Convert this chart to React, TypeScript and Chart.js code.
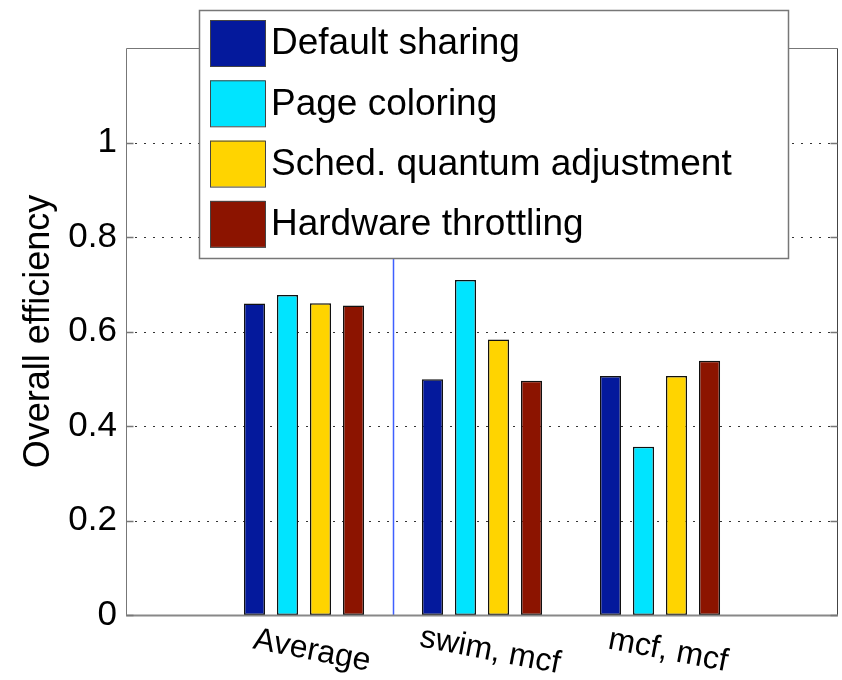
import React, { useEffect, useRef } from "react";
import { Chart, registerables } from "chart.js";

Chart.register(...registerables);

const categories = ["", "Average", "swim, mcf", "mcf, mcf", ""];
const seriesNames = [
  "Default sharing",
  "Page coloring",
  "Sched. quantum adjustment",
  "Hardware throttling",
];
const defaultSharing = [null, 0.659, 0.499, 0.506, null];
const pageColoring = [null, 0.677, 0.709, 0.356, null];
const schedQuantum = [null, 0.66, 0.583, 0.506, null];
const hwThrottling = [null, 0.655, 0.496, 0.538, null];
const seriesColors = ["#04199c", "#00e4ff", "#ffd400", "#8c1400"];
const yTicks = [0, 0.2, 0.4, 0.6, 0.8, 1];
const yTitle = "Overall efficiency";

const FONT = "'Liberation Sans', Arial, Helvetica, sans-serif";

const customDraw = {
  id: "customDraw",
  beforeDatasetsDraw(chart: any) {
    const { ctx, chartArea } = chart;
    const y = chart.scales.y;
    const x = chart.scales.x;
    ctx.save();
    // dotted grid lines
    ctx.strokeStyle = "#333";
    ctx.lineWidth = 1.2;
    ctx.setLineDash([2, 7]);
    yTicks.forEach((v) => {
      if (v === 0) return;
      const py = Math.round(y.getPixelForValue(v)) + 0.5;
      ctx.beginPath();
      ctx.moveTo(chartArea.left, py);
      ctx.lineTo(chartArea.right, py);
      ctx.stroke();
    });
    ctx.setLineDash([]);
    // blue divider between first group and the rest
    const px = Math.round((x.getPixelForValue(1) + x.getPixelForValue(2)) / 2) + 0.5;
    ctx.strokeStyle = "#3f5fff";
    ctx.lineWidth = 1.5;
    ctx.beginPath();
    ctx.moveTo(px, chartArea.top);
    ctx.lineTo(px, chartArea.bottom);
    ctx.stroke();
    ctx.restore();
  },
  afterDatasetsDraw(chart: any) {
    const { ctx, chartArea } = chart;
    const y = chart.scales.y;
    const x = chart.scales.x;
    ctx.save();
    // axis box
    ctx.strokeStyle = "#777";
    ctx.lineWidth = 1;
    const l = Math.round(chartArea.left) + 0.5;
    const r = Math.round(chartArea.right) - 0.5;
    const t = Math.round(chartArea.top) + 0.5;
    const b = Math.round(chartArea.bottom) + 0.5;
    ctx.beginPath();
    ctx.moveTo(l, b);
    ctx.lineTo(l, t);
    ctx.lineTo(r, t);
    ctx.stroke();
    ctx.strokeStyle = "#444";
    ctx.beginPath();
    ctx.moveTo(r, t);
    ctx.lineTo(r, b);
    ctx.stroke();
    ctx.strokeStyle = "#888";
    ctx.lineWidth = 2;
    ctx.beginPath();
    ctx.moveTo(l - 0.5, b);
    ctx.lineTo(r + 0.5, b);
    ctx.stroke();
    // tick marks
    ctx.strokeStyle = "#777";
    ctx.lineWidth = 1.5;
    yTicks.forEach((v) => {
      const py = Math.round(y.getPixelForValue(v)) + 0.5;
      ctx.beginPath();
      ctx.moveTo(l, py);
      ctx.lineTo(l + 7, py);
      ctx.moveTo(r, py);
      ctx.lineTo(r - 7, py);
      ctx.stroke();
    });
    // x category labels, rotated
    ctx.fillStyle = "#000";
    ctx.font = `32px ${FONT}`;
    ctx.textAlign = "center";
    ctx.textBaseline = "middle";
    categories.forEach((c, i) => {
      if (!c) return;
      const cx = x.getPixelForValue(i) + 8;
      const cy = chartArea.bottom + 36;
      ctx.save();
      ctx.translate(cx, cy);
      ctx.rotate((11 * Math.PI) / 180);
      ctx.fillText(c, 0, 0);
      ctx.restore();
    });
    // y title
    ctx.save();
    ctx.font = `36px ${FONT}`;
    ctx.translate(39, (chartArea.top + chartArea.bottom) / 2);
    ctx.rotate(-Math.PI / 2);
    ctx.textAlign = "center";
    ctx.textBaseline = "middle";
    ctx.fillText(yTitle, 0, 0);
    ctx.restore();
    // legend
    const lx = 199.5, ly = 10.5, lw = 589, lh = 248;
    ctx.fillStyle = "#fff";
    ctx.fillRect(lx, ly, lw, lh);
    ctx.strokeStyle = "#777";
    ctx.lineWidth = 1.5;
    ctx.strokeRect(lx, ly, lw, lh);
    ctx.font = `37px ${FONT}`;
    ctx.textAlign = "left";
    ctx.textBaseline = "middle";
    chart.data.datasets.forEach((ds: any, i: number) => {
      const sy = 20 + i * 60.3;
      ctx.fillStyle = ds.backgroundColor;
      ctx.fillRect(210, sy, 55, 46);
      ctx.strokeStyle = "#444";
      ctx.lineWidth = 1;
      ctx.strokeRect(210.5, sy + 0.5, 55, 46);
      ctx.fillStyle = "#000";
      ctx.fillText(ds.label, 271, sy + 24);
    });
    ctx.restore();
  },
};

export default function App() {
  const canvasRef = useRef<HTMLCanvasElement | null>(null);

  useEffect(() => {
    const canvas = canvasRef.current;
    if (!canvas) return;
    const seriesData = [defaultSharing, pageColoring, schedQuantum, hwThrottling];
    const chart = new Chart(canvas, {
      type: "bar",
      data: {
        labels: categories,
        datasets: seriesData.map((d, i) => ({
          label: seriesNames[i],
          data: d,
          backgroundColor: seriesColors[i],
          borderColor: "#111",
          borderWidth: 1.5,
          borderSkipped: false,
          categoryPercentage: 0.742,
          barPercentage: 0.64,
        })),
      },
      options: {
        animation: false,
        responsive: false,
        maintainAspectRatio: false,
        devicePixelRatio: 1,
        layout: { padding: { top: 48, right: 4, bottom: 65, left: 0 } },
        plugins: {
          legend: { display: false },
          tooltip: { enabled: false },
          title: { display: false },
        },
        scales: {
          x: {
            type: "category",
            display: false,
            offset: false,
            grid: { display: false },
          },
          y: {
            min: 0,
            max: 1.2,
            afterFit: (scale: any) => {
              scale.width = 126;
            },
            afterBuildTicks: (scale: any) => {
              scale.ticks = [...yTicks, 1.2].map((v) => ({ value: v }));
            },
            grid: { display: false, drawTicks: false },
            border: { display: false },
            ticks: {
              padding: 9,
              color: "#000",
              font: { size: 35, family: FONT },
              callback: (v: any) =>
                yTicks.some((t) => Math.abs(t - v) < 1e-9) ? String(Number(Number(v).toFixed(1))) : "",
            },
          },
        },
      },
      plugins: [customDraw],
    } as any);
    return () => chart.destroy();
  }, []);

  return (
    <div style={{ position: "absolute", left: 0, top: 0, width: 842, height: 680, background: "#fff" }}>
      <canvas ref={canvasRef} width={842} height={680} style={{ width: 842, height: 680 }} />
    </div>
  );
}
